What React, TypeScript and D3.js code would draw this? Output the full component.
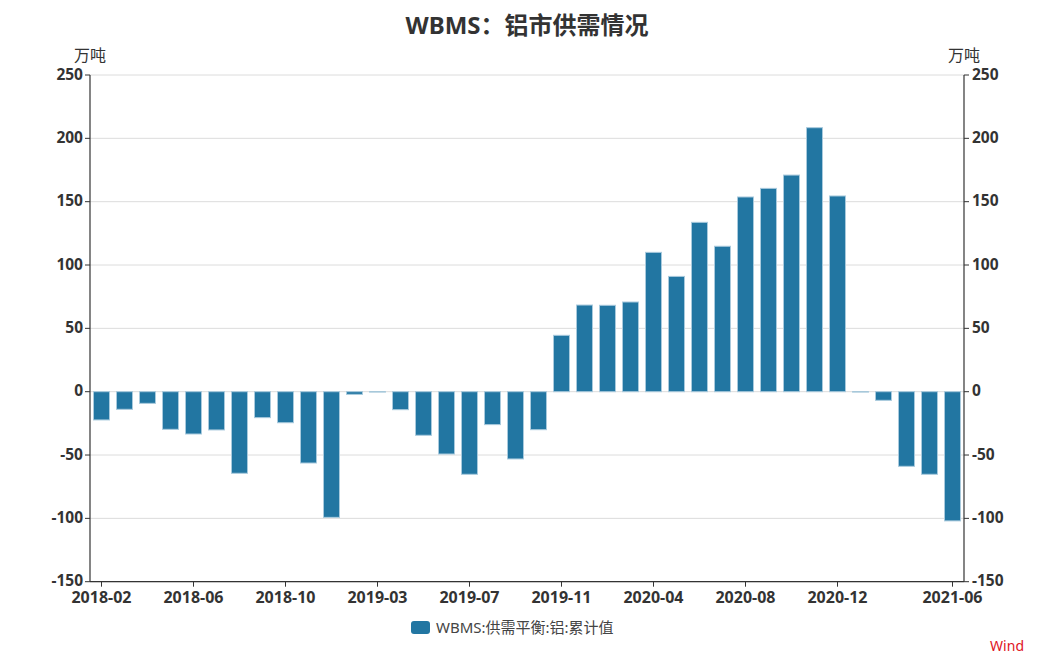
import React from "react";
import * as d3 from "d3";

const months: string[] = [
  "2018-02","2018-03","2018-04","2018-05","2018-06","2018-07","2018-08","2018-09","2018-10","2018-11","2018-12",
  "2019-02","2019-03","2019-04","2019-05","2019-06","2019-07","2019-08","2019-09","2019-10","2019-11","2019-12",
  "2020-02","2020-03","2020-04","2020-05","2020-06","2020-07","2020-08","2020-09","2020-10","2020-11","2020-12",
  "2021-02","2021-03","2021-04","2021-05","2021-06",
];
const balance: number[] = [
  -22.3, -13.9, -9.2, -29.7, -33.4, -30.2, -64.4, -20.5, -24.5, -56.3, -99.2,
  -2.1, -0.3, -14.2, -34.4, -49.2, -65.2, -26, -53.1, -30, 44.5, 68.4,
  68.2, 70.8, 110, 91, 133.7, 114.8, 153.7, 160.5, 171, 208.4, 154.5,
  -0.3, -6.8, -58.9, -65.2, -102,
];
const xTickLabels: string[] = ["2018-02","2018-06","2018-10","2019-03","2019-07","2019-11","2020-04","2020-08","2020-12","2021-06"];
const yTicks: number[] = [250, 200, 150, 100, 50, 0, -50, -100, -150];
const seriesName = "WBMS:供需平衡:铝:累计值";
const title = "WBMS：铝市供需情况";
const unit = "万吨";

const W = 1054, H = 666;
const left = 90, right = 964, top = 75, bottom = 581.7;
const font = "'Noto Sans', 'Noto Sans CJK SC', sans-serif";

export default function App() {
  const x = d3.scaleBand<string>().domain(months).range([left, right]).paddingInner(0.3).paddingOuter(0.15);
  const y = d3.scaleLinear().domain([-150, 250]).range([bottom, top]);
  const step = x.step();
  const cx = (m: string) => left + step * (months.indexOf(m) + 0.5);
  const bw = 16;
  return (
    <svg width={W} height={H} style={{ position: "absolute", left: 0, top: 0, background: "#fff" }}>
      <text x={527} y={34} textAnchor="middle" fontFamily={font} fontSize={24} fontWeight="bold" fill="#333">{title}</text>
      {yTicks.map((t) => (
        <line key={"g" + t} x1={left} x2={right} y1={y(t)} y2={y(t)} stroke="#dcdcdc" strokeWidth={1} />
      ))}
      {months.map((m, i) => {
        const v = balance[i];
        const y0 = y(0), y1 = y(v);
        return (
          <rect key={m} x={cx(m) - bw / 2} y={Math.min(y0, y1)} width={bw} height={Math.abs(y1 - y0)}
            fill="#2276a2" stroke="#a9cadd" strokeWidth={1} />
        );
      })}
      {/* left axis */}
      <line x1={left} x2={left} y1={top} y2={bottom} stroke="#333" strokeWidth={1.2} />
      {yTicks.map((t) => (
        <g key={"l" + t}>
          <line x1={left - 5} x2={left} y1={y(t)} y2={y(t)} stroke="#333" />
          <text x={left - 7} y={y(t) + 4.5} textAnchor="end" fontFamily={font} fontSize={15.5} fontWeight="bold" fill="#333">{t}</text>
        </g>
      ))}
      <text x={74} y={61} fontFamily={font} fontSize={16} fill="#333">{unit}</text>
      {/* right axis */}
      <line x1={right} x2={right} y1={top} y2={bottom} stroke="#333" strokeWidth={1.2} />
      {yTicks.map((t) => (
        <g key={"r" + t}>
          <line x1={right} x2={right + 5} y1={y(t)} y2={y(t)} stroke="#333" />
          <text x={right + 8} y={y(t) + 4.5} textAnchor="start" fontFamily={font} fontSize={15.5} fontWeight="bold" fill="#333">{t}</text>
        </g>
      ))}
      <text x={948} y={61} fontFamily={font} fontSize={16} fill="#333">{unit}</text>
      {/* x axis */}
      <line x1={left} x2={right} y1={bottom} y2={bottom} stroke="#333" strokeWidth={1.2} />
      {xTickLabels.map((m) => (
        <g key={"x" + m}>
          <line x1={cx(m)} x2={cx(m)} y1={bottom} y2={bottom + 5} stroke="#333" />
          <text x={cx(m)} y={bottom + 21} textAnchor="middle" fontFamily={font} fontSize={16} fontWeight="bold" fill="#333">{m}</text>
        </g>
      ))}
      {/* legend */}
      <rect x={411} y={621} width={19} height={13} rx={3} fill="#2276a2" />
      <text x={436} y={633} fontFamily={font} fontSize={15} fill="#444">{seriesName}</text>
      <text x={1024} y={651} textAnchor="end" fontFamily={font} fontSize={14} fill="#e0141e">Wind</text>
    </svg>
  );
}
